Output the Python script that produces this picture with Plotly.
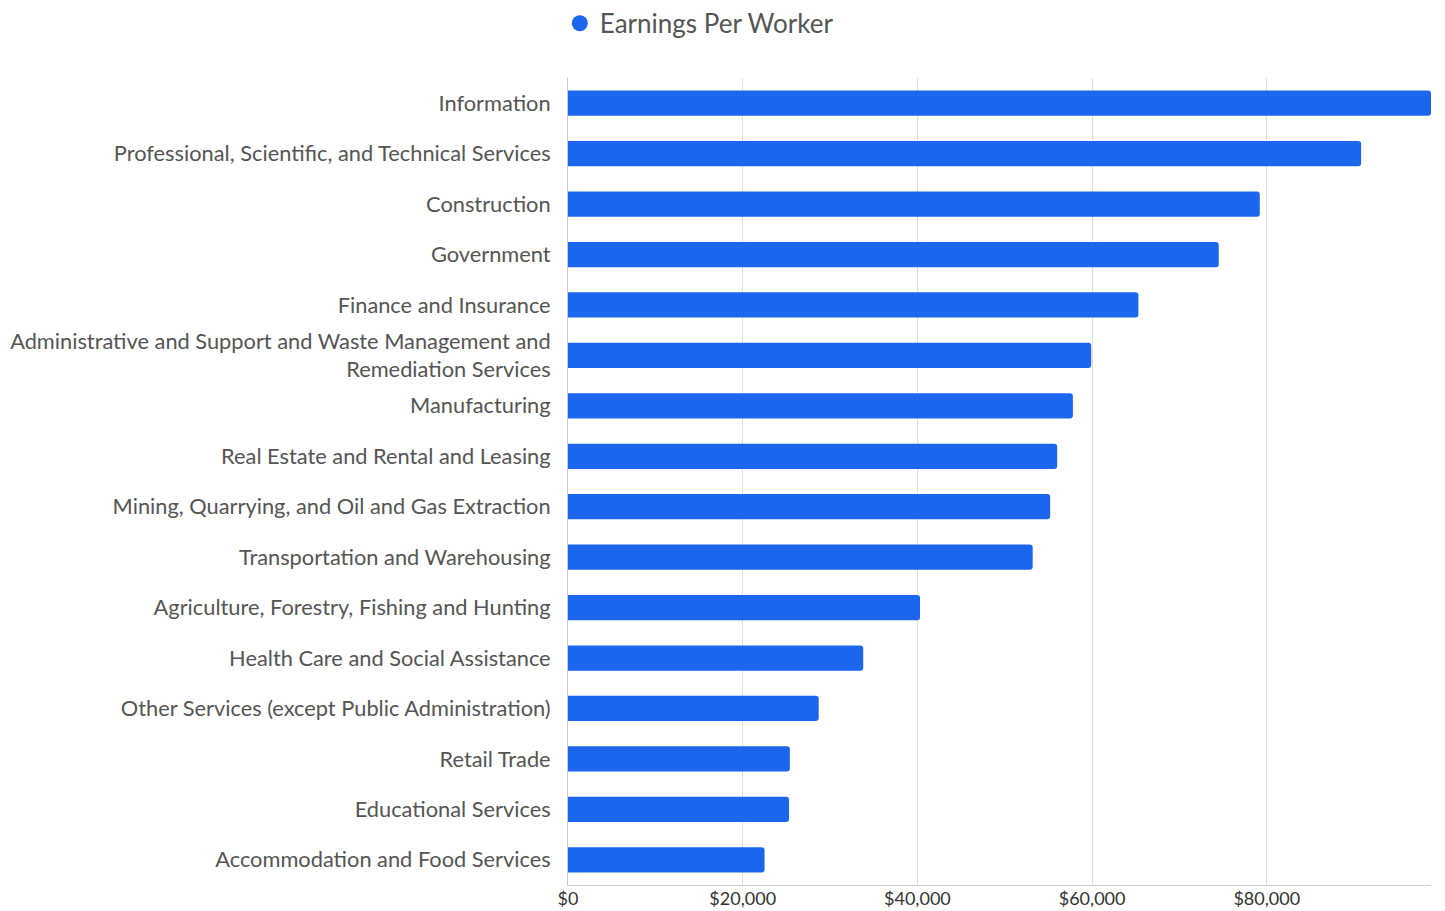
import plotly.graph_objects as go

categories = [
    "Information",
    "Professional, Scientific, and Technical Services",
    "Construction",
    "Government",
    "Finance and Insurance",
    "Administrative and Support and Waste Management and<br>Remediation Services",
    "Manufacturing",
    "Real Estate and Rental and Leasing",
    "Mining, Quarrying, and Oil and Gas Extraction",
    "Transportation and Warehousing",
    "Agriculture, Forestry, Fishing and Hunting",
    "Health Care and Social Assistance",
    "Other Services (except Public Administration)",
    "Retail Trade",
    "Educational Services",
    "Accommodation and Food Services",
]
earnings = [98800, 90800, 79200, 74500, 65300, 59900, 57800, 56000,
            55200, 53200, 40300, 33800, 28700, 25400, 25300, 22500]
series_name = "Earnings Per Worker"
tick_vals = [0, 20000, 40000, 60000, 80000]
tick_text = ["$0", "$20,000", "$40,000", "$60,000", "$80,000"]

color = "#1c66ee"

fig = go.Figure()
fig.add_trace(go.Bar(
    y=categories, x=earnings, orientation="h",
    marker=dict(color=color, line=dict(width=0)),
    name=series_name, showlegend=False,
))
fig.add_trace(go.Scatter(
    x=[None], y=[None], mode="markers",
    marker=dict(color=color, size=20, symbol="circle"),
    name=series_name, showlegend=True,
))

fig.update_layout(
    width=1437, height=903,
    margin=dict(l=560, r=14, t=70, b=26, autoexpand=False),
    paper_bgcolor="white", plot_bgcolor="white",
    font=dict(family="Lato", color="#555555"),
    bargap=0.5,
    barcornerradius=3,
    legend=dict(orientation="h", x=0.384, xanchor="left", y=0.983, yanchor="middle",
                xref="container", yref="container",
                font=dict(size=26, color="#555555"),
                itemsizing="trace"),
    xaxis=dict(range=[0, max(earnings)], tickvals=tick_vals, ticktext=tick_text,
               showgrid=True, gridcolor="#dddddd", gridwidth=1,
               showline=True, linecolor="#cccccc", linewidth=1,
               zeroline=False, tickfont=dict(size=18, color="#333333"),
               ticks="", ticklen=0, ticklabelstandoff=-3, automargin=False),
    yaxis=dict(autorange="reversed", showline=True, linecolor="#cccccc",
               linewidth=1, tickfont=dict(size=21.8, color="#555555"),
               ticks="outside", ticklen=12, tickcolor="white", automargin=False),
)

fig.write_html("out.html")
